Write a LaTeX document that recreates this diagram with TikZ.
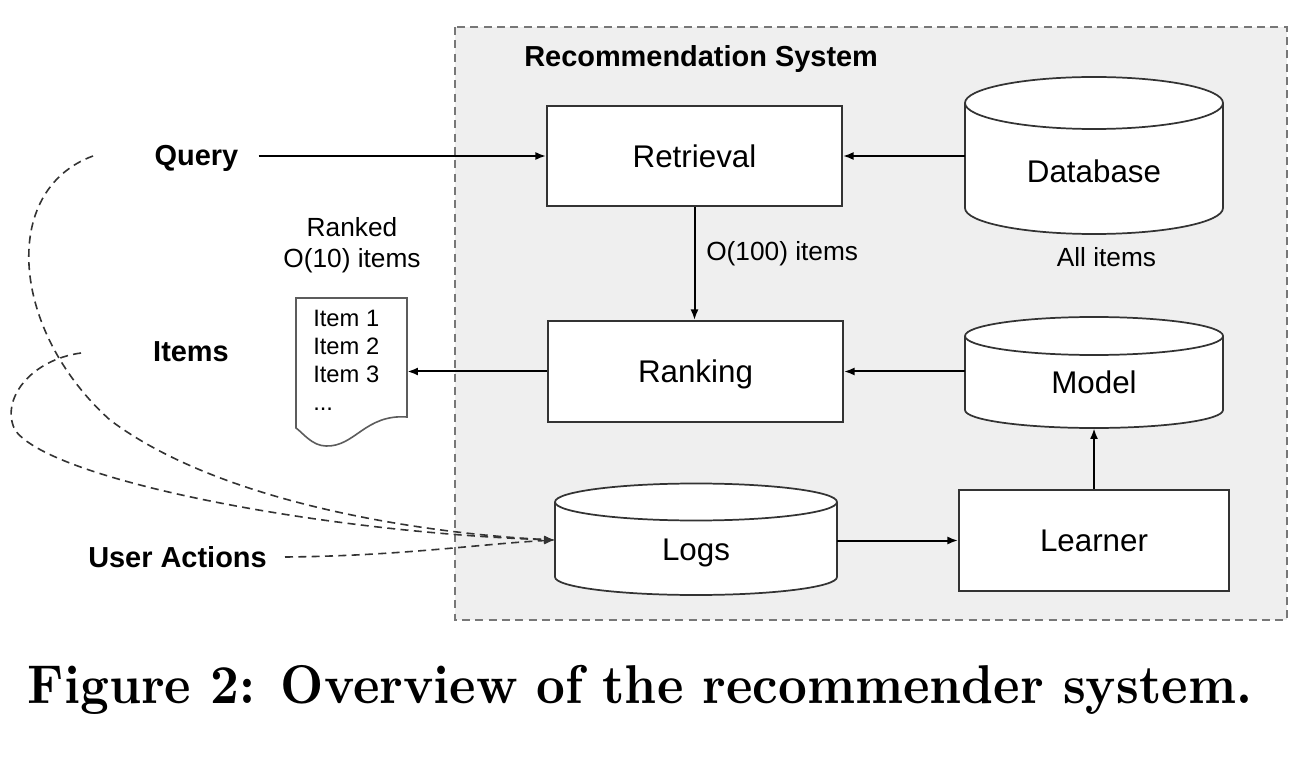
\documentclass[tikz,border=0pt]{standalone}
\usepackage{fontspec}
\usetikzlibrary{arrows.meta}
\newfontfamily\arialf{Liberation Sans}
\definecolor{linec}{HTML}{333333}
\definecolor{panel}{HTML}{EFEFEF}
\definecolor{dashc}{HTML}{777777}
\newcommand\mycyl[6]{% x1, x2, ytopcenter, ybotcenter, rytop, rybot
  \pgfmathsetmacro\myrx{(#2-#1)/2}
  \filldraw[fill=white, draw=linec, line width=1.3pt] (#1,#3) -- (#1,#4)
    arc[start angle=180, end angle=360, x radius=\myrx, y radius=#6] -- (#2,#3)
    arc[start angle=0, end angle=180, x radius=\myrx, y radius=#5] -- cycle;
  \draw[draw=linec, line width=1.3pt] (#1,#3) arc[start angle=180, end angle=360, x radius=\myrx, y radius=#5];
}
\tikzset{
  x=0.75pt, y=0.75pt,
  boxn/.style={draw=linec, fill=white, line width=1.3pt, text depth=0pt, font=\arialf\fontsize{23.5}{28}\selectfont},
  anchorn/.style={draw=none, inner sep=0},
  txt/.style={font=\arialf\fontsize{23.5}{28}\selectfont, inner sep=0, text depth=0pt},
  boldlbl/.style={font=\arialf\bfseries\fontsize{21.7}{26}\selectfont, inner sep=0},
  smalllbl/.style={font=\arialf\fontsize{19.7}{23.3}\selectfont, inner sep=0},
  arr/.style={-{Latex[length=8pt,width=6pt]}, line width=1.5pt, draw=black},
  darr/.style={-{Latex[length=8pt,width=6pt]}, line width=1.2pt, draw=linec, dash pattern=on 6pt off 4pt},
}
\begin{document}
\begin{tikzpicture}
\useasboundingbox (0,0) rectangle (1306,-766);
% panel
\filldraw[fill=panel, draw=dashc, line width=1.2pt, dash pattern=on 6pt off 4pt] (455,-27) rectangle (1287,-620);
\node[boldlbl, anchor=base west] (title) at (524,-67) {Recommendation System};

% boxes
\node[boxn, minimum width=295*0.75pt, minimum height=100*0.75pt] (ret) at (694.5,-156) {Retrieval};
\node[boxn, minimum width=295*0.75pt, minimum height=101*0.75pt] (rank) at (695.5,-371.5) {Ranking};
\node[boxn, minimum width=270*0.75pt, minimum height=101*0.75pt] (learn) at (1094,-540.5) {Learner};

% cylinders
\mycyl{965}{1223}{-103}{-208}{26}{26}
\node[anchorn, minimum width=258*0.75pt, minimum height=120*0.75pt] (db) at (1094,-171) {};
\node[txt] (dbt) at (1094,-171) {Database};
\node[smalllbl, anchor=base] (allitems) at (1106.5,-267) {All items};

\mycyl{965}{1223}{-336}{-410}{19}{18}
\node[anchorn, minimum width=258*0.75pt, minimum height=91*0.75pt] (model) at (1094,-382.5) {};
\node[txt] (modelt) at (1094,-382.5) {Model};

\mycyl{555}{837}{-502}{-577}{18.5}{18}
\node[anchorn, minimum width=282*0.75pt, minimum height=111*0.75pt] (logs) at (696,-540) {};
\node[txt] (logst) at (696,-550) {Logs};

% document
\filldraw[fill=white, draw=linec!80, line width=1.2pt] (296,-298) -- (407,-298) -- (407,-417)
  .. controls (365,-414) and (355,-447) .. (326,-446)
  .. controls (312,-446) and (302,-432) .. (296,-428) -- cycle;
\node[anchorn, minimum width=111*0.75pt, minimum height=130*0.75pt] (doc) at (351.5,-363) {};
\node[font=\arialf\fontsize{17.8}{21}\selectfont, inner sep=0, anchor=north west, align=left] (doct) at (313,-309.5) {Item 1\\Item 2\\Item 3\\...};
\node[smalllbl, anchor=north, align=center] (ranked) at (352,-217.5) {Ranked\\O(10) items};

% left labels
\node[boldlbl, anchor=base] (query) at (196.5,-166) {Query};
\node[boldlbl, anchor=base] (items) at (191,-362) {Items};
\node[boldlbl, anchor=base] (ua) at (177.5,-567) {User Actions};
\node[smalllbl, anchor=base west] (o100) at (706,-261) {O(100) items};

% connectors
\draw[arr] ([xshift=15pt]query.east |- ret.west) -- (ret.west);
\draw[arr] (ret.east -| db.west) -- (ret.east);
\draw[arr] (ret.south) -- (ret.south |- rank.north);
\draw[arr] (rank.west) -- (rank.west -| doc.east);
\draw[arr] (rank.east -| model.west) -- (rank.east);
\draw[arr] (learn.north) -- (learn.north |- model.south);
\draw[arr] (logs.east |- learn.west) -- (learn.west);

% dashed feedback
\coordinate (qs) at (93,-156);
\coordinate (is) at (81,-353);
\coordinate (us) at (285,-557);
\draw[darr] (qs) .. controls (0,-190) and (10,-330) .. (110,-420)
  .. controls (230,-510) and (450,-535) .. (logs.west);
\draw[darr] (is) .. controls (30,-360) and (0,-400) .. (15,-430)
  .. controls (50,-480) and (320,-532) .. (logs.west);
\draw[darr] (us) .. controls (400,-556) and (480,-544) .. (logs.west);

% caption
\node[anchor=base, inner sep=0] (cap) at (640,-703) {\scalebox{1}[1.09]{\resizebox{918pt}{!}{\bfseries Figure 2: Overview of the recommender system.}}};
\end{tikzpicture}
\end{document}
